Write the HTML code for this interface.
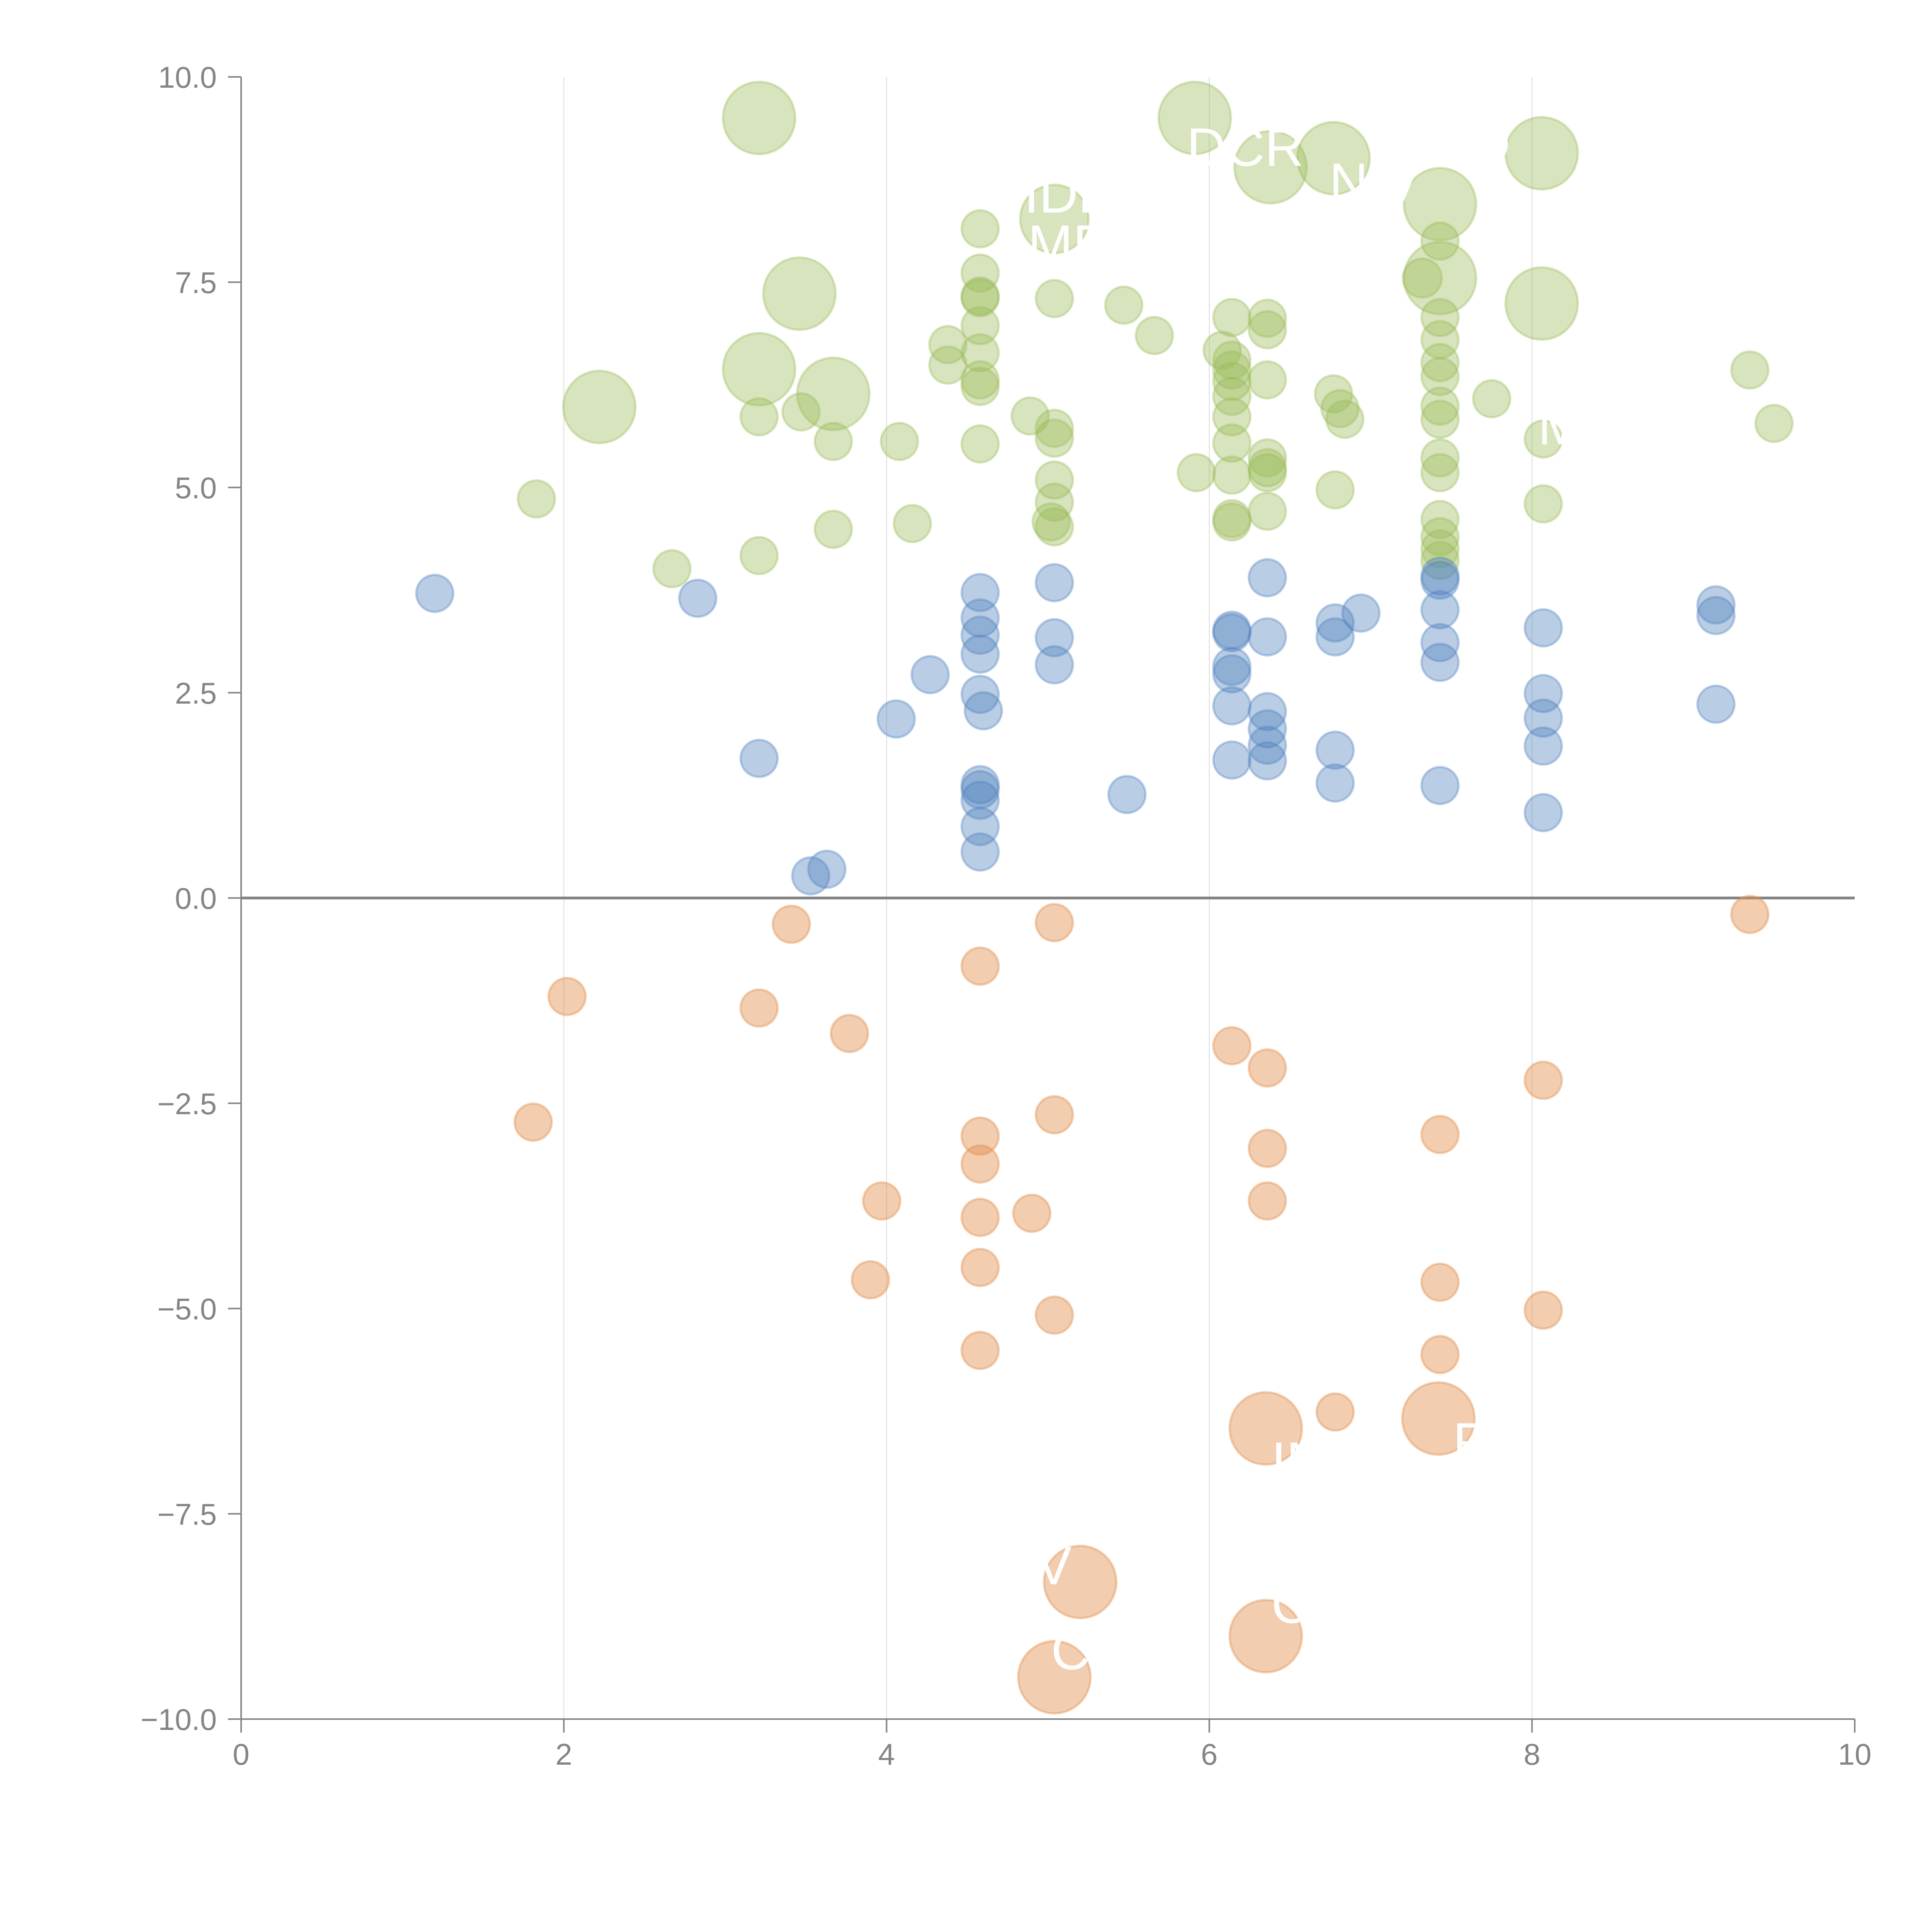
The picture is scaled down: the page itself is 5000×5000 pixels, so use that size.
<!DOCTYPE html>
<html><head><meta charset="utf-8"><style>
html,body{margin:0;padding:0;background:#fff;}
svg{display:block;font-family:"Liberation Sans",sans-serif;}
</style></head><body>
<svg id="chart" width="5000" height="5000" viewBox="0 0 5000 5000" xmlns="http://www.w3.org/2000/svg">
<g id="grid"></g>
<g id="axes"></g>
<g id="marks"></g>
<g id="labels"></g>
</svg>
<script>
const xTicks = [0, 2, 4, 6, 8, 10];
const yTicks = [-10, -7.5, -5, -2.5, 0, 2.5, 5, 7.5, 10];
const yTickLabels = ["\u221210.0","\u22127.5","\u22125.0","\u22122.5","0.0","2.5","5.0","7.5","10.0"];

const greenX = [3.21,5.91,6.38,6.77,8.06,7.43,5.04,7.43,3.46,8.06,3.21,3.67,2.22,
4.58,7.43,7.32,4.58,4.58,4.58,5.04,5.47,6.14,6.36,6.36,4.58,7.43,5.66,4.38,7.43,4.58,6.08,6.14,4.38,7.43,6.14,9.35,4.58,4.58,6.14,6.36,7.43,6.14,6.77,7.75,6.81,7.43,3.47,4.89,3.21,6.14,6.84,7.43,9.50,5.04,5.04,8.07,3.67,4.08,4.58,6.14,6.36,7.43,6.36,6.36,7.43,5.92,6.14,5.04,6.78,1.83,5.04,8.07,6.36,6.14,6.14,7.43,5.02,5.04,4.16,3.67,7.43,7.43,3.21,7.43,2.67];
const greenY = [9.50,9.50,8.90,9.01,9.07,8.45,8.27,7.55,7.36,7.24,6.44,6.14,5.98,
8.15,8.00,7.55,7.61,7.33,7.31,7.30,7.22,7.07,7.06,6.92,6.97,7.07,6.85,6.74,6.80,6.64,6.67,6.55,6.49,6.52,6.43,6.43,6.31,6.23,6.29,6.31,6.35,6.11,6.14,6.08,5.96,5.99,5.92,5.87,5.86,5.86,5.83,5.83,5.78,5.72,5.60,5.59,5.56,5.56,5.53,5.54,5.36,5.36,5.24,5.18,5.18,5.18,5.15,5.09,4.97,4.86,4.82,4.80,4.71,4.62,4.58,4.61,4.58,4.52,4.56,4.49,4.40,4.25,4.17,4.11,4.01];
const greenSize = [3.8,3.8,3.8,3.8,3.8,3.8,3.4,3.8,3.8,3.8,3.8,3.8,3.8,
1,1,1.1,1,1,1,1,1,1,1,1,1,1,1,1,1,1,1,1,1,1,1,1,1,1,1,1,1,1,1,1,1,1,1,1,1,1,1,1,1,1,1,1,1,1,1,1,1,1,1,1,1,1,1,1,1,1,1,1,1,1,1,1,1,1,1,1,1,1,1,1,1];

const blueX = [1.20,2.83,4.58,5.04,6.36,7.43,7.43,7.43,6.94,9.14,9.14,4.58,6.78,8.07,6.14,6.14,4.58,6.36,5.04,6.78,7.43,4.58,7.43,5.04,6.14,6.14,4.27,4.58,8.07,9.14,6.14,4.60,6.36,8.07,4.06,6.36,6.36,8.07,6.78,3.21,6.14,6.36,6.78,7.43,4.58,4.58,5.49,4.58,8.07,4.58,4.58,3.63,3.53];
const blueY = [3.71,3.65,3.72,3.84,3.90,3.92,3.87,3.51,3.47,3.57,3.44,3.41,3.35,3.29,3.26,3.23,3.20,3.18,3.17,3.18,3.11,2.97,2.87,2.84,2.82,2.73,2.72,2.48,2.49,2.36,2.34,2.28,2.27,2.19,2.18,2.06,1.86,1.85,1.80,1.70,1.68,1.67,1.40,1.37,1.38,1.32,1.26,1.19,1.04,0.87,0.56,0.35,0.27];

const orangeX = [9.35,3.41,5.04,4.58,2.02,3.21,3.77,6.14,6.36,8.07,5.04,1.81,7.43,4.58,6.36,4.58,3.97,6.36,4.90,4.58,4.58,3.90,7.43,8.07,5.04,4.58,7.43,6.78,6.35,7.42,5.20,6.35,5.04];
const orangeY = [-0.20,-0.32,-0.30,-0.83,-1.20,-1.34,-1.65,-1.80,-2.07,-2.22,-2.64,-2.73,-2.88,-2.90,-3.05,-3.24,-3.69,-3.69,-3.84,-3.89,-4.50,-4.65,-4.68,-5.02,-5.08,-5.51,-5.56,-6.26,-6.46,-6.34,-8.33,-8.99,-9.49];
const orangeSize = [1,1,1,1,1,1,1,1,1,1,1,1,1,1,1,1,1,1,1,1,1,1,1,1,1,1,1,1,3.8,3.8,3.8,3.8,3.8];

const NS = "http://www.w3.org/2000/svg";
const X0 = 624, X1 = 4800, YT = 199, YB = 4449;
function sx(v){ return X0 + (v - 0) / 10 * (X1 - X0); }
function sy(v){ return YB - (v + 10) / 20 * (YB - YT); }
function rad(s){ return 48 * Math.sqrt(s); }
function mk(tag, attrs, parent){
  const e = document.createElementNS(NS, tag);
  for (const k in attrs) e.setAttribute(k, attrs[k]);
  parent.appendChild(e);
  return e;
}
const grid = document.getElementById('grid');
const axes = document.getElementById('axes');
const marks = document.getElementById('marks');
const labels = document.getElementById('labels');

xTicks.forEach(function(t){
  if (t > 0 && t < 10) {
    const g = mk('line', {x1:sx(t), x2:sx(t), y1:YT, y2:YB, stroke:'#d9d9d9', 'stroke-width':2}, grid);
    
    
  }
  const tk = mk('line', {x1:sx(t), x2:sx(t), y1:YB, y2:YB+35, stroke:'#858585', 'stroke-width':4}, axes);
  
  
  const tx = mk('text', {x:sx(t), y:YB+118, 'font-size':78, fill:'#858585', 'text-anchor':'middle'}, axes);
  tx.textContent = String(t);
  
  
});
yTicks.forEach(function(t, i){
  const tk = mk('line', {x1:X0-34, x2:X0, y1:sy(t), y2:sy(t), stroke:'#858585', 'stroke-width':4}, axes);
  
  
  const tx = mk('text', {x:X0-63, y:sy(t)+28, 'font-size':78, fill:'#858585', 'text-anchor':'end'}, axes);
  tx.textContent = yTickLabels[i];
  
  
});
const ya = mk('line', {x1:X0, x2:X0, y1:YT, y2:YB, stroke:'#858585', 'stroke-width':4}, axes);


const xa = mk('line', {x1:X0, x2:X1, y1:YB, y2:YB, stroke:'#858585', 'stroke-width':4}, axes);


const zl = mk('line', {x1:X0, x2:X1, y1:sy(0), y2:sy(0), stroke:'#808080', 'stroke-width':7}, axes);



function series(xs, ys, sizes, fill, stroke, name){
  xs.forEach(function(x, i){
    const s = sizes ? sizes[i] : 1;
    const c = mk('circle', {cx:sx(x), cy:sy(ys[i]), r:rad(s), fill:fill, stroke:stroke, 'stroke-width':6}, marks);
    
    
  });
}
series(greenX, greenY, greenSize, 'rgba(155,187,89,0.4)', 'rgba(155,187,89,0.35)', 'bubble-green');
series(blueX, blueY, null, 'rgba(79,129,189,0.4)', 'rgba(79,129,189,0.35)', 'bubble-blue');
series(orangeX, orangeY, orangeSize, 'rgba(226,145,80,0.45)', 'rgba(226,145,80,0.4)', 'bubble-orange');

const labelText = ["DCR","NIV","IDE","MP","O","M","IM","F","C","C","V"];
const labelX = [3071,3440,2650,2660,3800,3980,3290,3760,3290,2720,2680];
const labelY = [429,520,550,680,420,1150,3830,3780,4200,4320,4100];
labelText.forEach(function(t, i){
  const tx = mk('text', {x:labelX[i], y:labelY[i], 'font-size':140, fill:'#ffffff'}, labels);
  tx.textContent = t;
  
  
});
</script>
</body></html>
